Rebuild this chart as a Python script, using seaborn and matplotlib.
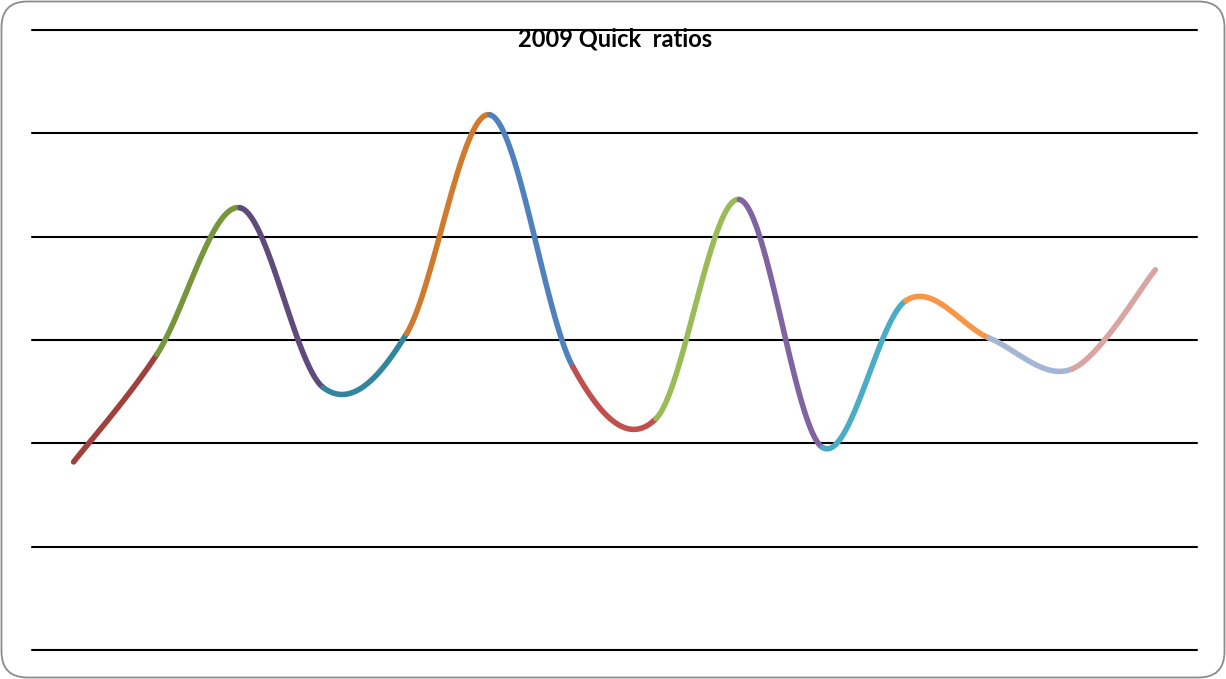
import numpy as np
import pandas as pd
import matplotlib
matplotlib.use("Agg")
import matplotlib.pyplot as plt
import matplotlib.patches as mpatches
from matplotlib.transforms import IdentityTransform
import seaborn as sns

# Quick ratios, 2009 (one value per company, in order)
companies = ["C1", "C2", "C3", "C4", "C5", "C6", "C7",
             "C8", "C9", "C10", "C11", "C12", "C13", "C14"]
quick_ratio = [0.91, 1.43, 2.14, 1.27, 1.53, 2.59, 1.37,
               1.12, 2.18, 0.98, 1.69, 1.51, 1.36, 1.84]

# colour of each segment leading into the next point
segment_colors = ["#A0403C", "#77963C", "#604A7B", "#31859C", "#D07A2E",
                  "#4F81BD", "#C0504D", "#9BBB59", "#8064A2", "#4BACC6",
                  "#F79646", "#A5B6D5", "#D9A5A3"]

y_ticks = [0, 0.5, 1.0, 1.5, 2.0, 2.5, 3.0]

sns.set_theme(style="white")
plt.rcParams["font.family"] = ["Lato", "DejaVu Sans"]

W, H, DPI = 1226, 679, 100
fig = plt.figure(figsize=(W / DPI, H / DPI), dpi=DPI)
ax = fig.add_axes([32 / W, 1 - 650 / H, (1197 - 32) / W, (650 - 30) / H])

x = np.arange(len(quick_ratio), dtype=float)
y = np.array(quick_ratio, dtype=float)
n = len(x)


def smooth_segment(i, steps=60):
    """Cubic Bezier between point i and i+1 with Catmull-Rom style handles."""
    p0 = np.array([x[i], y[i]])
    p3 = np.array([x[i + 1], y[i + 1]])
    prev = np.array([x[i - 1], y[i - 1]]) if i > 0 else p0
    nxt = np.array([x[i + 2], y[i + 2]]) if i + 2 < n else p3
    p1 = p0 + (p3 - prev) / 6.0
    p2 = p3 - (nxt - p0) / 6.0
    t = np.linspace(0, 1, steps)[:, None]
    pts = ((1 - t) ** 3) * p0 + 3 * ((1 - t) ** 2) * t * p1 \
        + 3 * (1 - t) * t ** 2 * p2 + t ** 3 * p3
    return pts[:, 0], pts[:, 1]


# horizontal gridlines
for v in y_ticks:
    ax.axhline(v, color="black", lw=1.5, zorder=1, clip_on=False)

for i in range(n - 1):
    sx, sy = smooth_segment(i)
    seg = pd.DataFrame({"company_pos": sx, "ratio": sy})
    sns.lineplot(data=seg, x="company_pos", y="ratio", ax=ax, sort=False,
                 color=segment_colors[i], lw=4.0, zorder=3,
                 solid_capstyle="round", estimator=None)

ax.set_xlim(-0.5, n - 0.5)
ax.set_ylim(y_ticks[0], y_ticks[-1])
ax.set_xticks([])
ax.set_yticks([])
ax.set_xlabel("")
ax.set_ylabel("")
for s in ax.spines.values():
    s.set_visible(False)
ax.patch.set_alpha(0)

fig.text(615 / W, 1 - 39 / H, "2009 Quick  ratios", ha="center", va="center",
         fontsize=17, fontweight="bold", color="black")

# rounded outer frame
frame = mpatches.FancyBboxPatch((1.5, 1.5), W - 3, H - 3,
                                boxstyle="round,pad=0,rounding_size=26",
                                transform=IdentityTransform(),
                                fc="none", ec="#8C8C8C", lw=1.3)
fig.patches.append(frame)

fig.savefig("out.png", dpi=DPI)
